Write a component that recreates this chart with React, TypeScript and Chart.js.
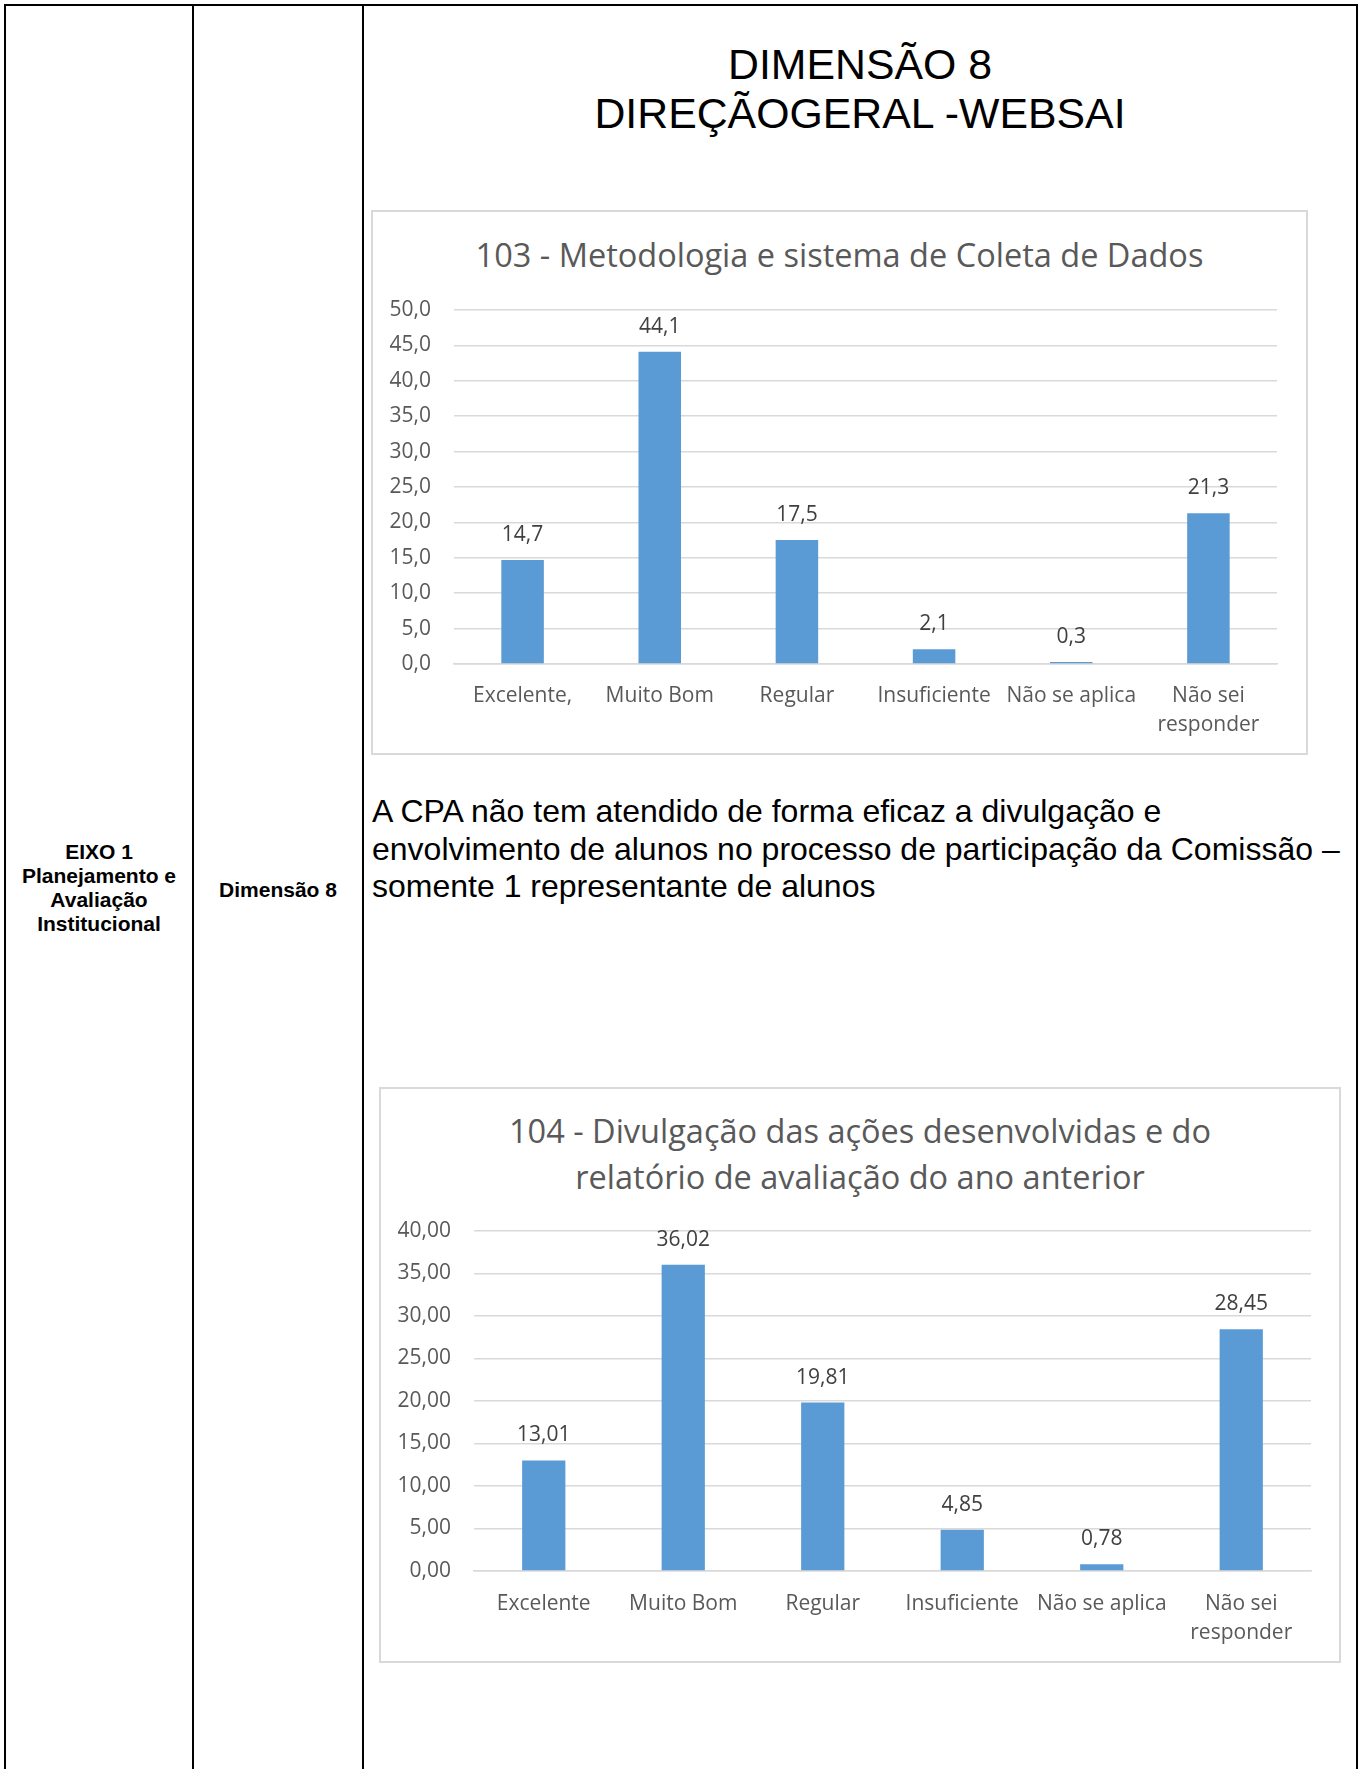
import React, { useEffect, useRef } from "react";
import { Chart, registerables } from "chart.js";

Chart.register(...registerables);

// ---------- Data ----------
const chart1Title = "103 - Metodologia e sistema de Coleta de Dados";
const chart1Categories: (string | string[])[] = [
  "Excelente,",
  "Muito Bom",
  "Regular",
  "Insuficiente",
  "Não se aplica",
  ["Não sei", "responder"],
];
const chart1Values = [14.7, 44.1, 17.5, 2.1, 0.3, 21.3];
const chart1AxisMax = 50;
const chart1AxisStep = 5;
const chart1Decimals = 1;

const chart2TitleLines = [
  "104 - Divulgação das ações desenvolvidas e do",
  "relatório de avaliação do ano anterior",
];
const chart2Categories: (string | string[])[] = [
  "Excelente",
  "Muito Bom",
  "Regular",
  "Insuficiente",
  "Não se aplica",
  ["Não sei", "responder"],
];
const chart2Values = [13.01, 36.02, 19.81, 4.85, 0.78, 28.45];
const chart2AxisMax = 40;
const chart2AxisStep = 5;
const chart2Decimals = 2;

const headerLines = ["DIMENSÃO 8", "DIREÇÃOGERAL -WEBSAI"];
const eixoLines = ["EIXO 1", "Planejamento e", "Avaliação", "Institucional"];
const dimensionLabel = "Dimensão 8";
const paragraphLines = [
  "A CPA não tem atendido de forma eficaz a divulgação e",
  "envolvimento de alunos no processo de participação da Comissão –",
  "somente 1 representante de alunos",
];

// ---------- Styles ----------
const BAR_COLOR = "#5B9BD5";
const GRID_COLOR = "#D9D9D9";
const AXIS_TEXT = "#595959";
const LABEL_TEXT = "#404040";
const CHART_FONT = "'Open Sans', 'Noto Sans', sans-serif";

const fmt = (v: number, d: number) => v.toFixed(d).replace(".", ",");

const valueLabelPlugin = {
  id: "valueLabels",
  afterDatasetsDraw(chart: any, _args: any, opts: any) {
    const ctx = chart.ctx;
    const meta = chart.getDatasetMeta(0);
    const data = chart.data.datasets[0].data as number[];
    ctx.save();
    ctx.font = `${opts.size}px ${CHART_FONT}`;
    ctx.fillStyle = LABEL_TEXT;
    ctx.textAlign = "center";
    ctx.textBaseline = "middle";
    meta.data.forEach((bar: any, i: number) => {
      ctx.fillText(fmt(data[i], opts.decimals), bar.x, bar.y - opts.offset);
    });
    ctx.restore();
  },
};

type BarProps = {
  labels: (string | string[])[];
  values: number[];
  max: number;
  step: number;
  decimals: number;
  left: number;
  top: number;
  width: number;
  height: number;
  plotLeft: number;
  plotRight: number;
  plotTop: number;
  plotBottom: number;
  labelPadding: number;
};

function BarChart(p: BarProps) {
  const ref = useRef<HTMLCanvasElement | null>(null);
  useEffect(() => {
    if (!ref.current) return;
    const chart = new Chart(ref.current, {
      type: "bar",
      data: {
        labels: p.labels as any,
        datasets: [
          {
            data: p.values,
            backgroundColor: BAR_COLOR,
            borderWidth: 0,
            barPercentage: 0.31,
            categoryPercentage: 1,
          },
        ],
      },
      options: {
        animation: false,
        responsive: false,
        devicePixelRatio: 1,
        layout: {
          padding: {
            left: 0,
            right: p.left + p.width - p.plotRight,
            top: p.plotTop - p.top,
            bottom: 0,
          },
        },
        plugins: {
          legend: { display: false },
          tooltip: { enabled: false },
          title: { display: false },
          valueLabels: { size: 21, decimals: p.decimals, offset: 25 },
        } as any,
        scales: {
          x: {
            grid: { display: false, drawTicks: false },
            border: { display: true, color: GRID_COLOR, width: 1.5 },
            ticks: {
              color: AXIS_TEXT,
              font: { family: CHART_FONT, size: 21, lineHeight: 1.4 },
              padding: p.labelPadding,
              maxRotation: 0,
              autoSkip: false,
            },
            afterFit: (s: any) => {
              s.height = p.top + p.height - p.plotBottom;
              s.paddingTop = 0;
              s.paddingBottom = 0;
            },
          },
          y: {
            min: 0,
            max: p.max,
            grid: { color: GRID_COLOR, lineWidth: 1.5, drawTicks: false },
            border: { display: false },
            ticks: {
              stepSize: p.step,
              color: AXIS_TEXT,
              font: { family: CHART_FONT, size: 21 },
              padding: 23,
              callback: (v: any) => fmt(Number(v), p.decimals),
            },
            afterFit: (s: any) => {
              s.width = p.plotLeft - p.left;
              s.paddingTop = 0;
              s.paddingBottom = 0;
            },
          },
        },
      },
      plugins: [valueLabelPlugin],
    });
    return () => chart.destroy();
  }, []);
  return (
    <canvas
      ref={ref}
      width={p.width}
      height={p.height}
      style={{
        position: "absolute",
        left: p.left,
        top: p.top,
        width: p.width,
        height: p.height,
      }}
    />
  );
}

const abs = (l: number, t: number, w: number, h: number, extra: any = {}) => ({
  position: "absolute" as const,
  left: l,
  top: t,
  width: w,
  height: h,
  ...extra,
});

export default function App() {
  return (
    <div
      style={{
        position: "absolute",
        left: 0,
        top: 0,
        width: 1361,
        height: 1769,
        overflow: "hidden",
        background: "#fff",
      }}
    >
      {/* table borders */}
      <div style={abs(4, 4, 1354, 2, { background: "#000" })} />
      <div style={abs(4, 4, 2, 1765, { background: "#000" })} />
      <div style={abs(192, 4, 2, 1765, { background: "#000" })} />
      <div style={abs(362, 4, 2, 1765, { background: "#000" })} />
      <div style={abs(1356, 4, 2, 1765, { background: "#000" })} />

      {/* column 1 */}
      <div
        style={abs(6, 840, 186, 100, {
          fontFamily: "'Liberation Sans', Arial, sans-serif",
          fontWeight: "bold",
          fontSize: 21,
          lineHeight: "24px",
          textAlign: "center",
          color: "#000",
        })}
      >
        {eixoLines.map((l, i) => (
          <div key={i}>{l}</div>
        ))}
      </div>

      {/* column 2 */}
      <div
        style={abs(194, 878, 168, 30, {
          fontFamily: "'Liberation Sans', Arial, sans-serif",
          fontWeight: "bold",
          fontSize: 21,
          lineHeight: "24px",
          textAlign: "center",
          color: "#000",
        })}
      >
        {dimensionLabel}
      </div>

      {/* header */}
      <div
        style={abs(364, 40, 992, 100, {
          fontFamily: "'Liberation Sans', Arial, sans-serif",
          fontSize: 42.8,
          lineHeight: "49px",
          textAlign: "center",
          color: "#000",
        })}
      >
        {headerLines.map((l, i) => (
          <div key={i}>{l}</div>
        ))}
      </div>

      {/* chart 1 box */}
      <div
        style={abs(371, 210, 937, 545, {
          boxSizing: "border-box",
          border: "2px solid #D9D9D9",
        })}
      />
      <div
        style={abs(371, 233, 937, 44, {
          fontFamily: CHART_FONT,
          fontSize: 32.5,
          lineHeight: "44px",
          textAlign: "center",
          color: AXIS_TEXT,
          whiteSpace: "nowrap",
        })}
      >
        {chart1Title}
      </div>
      <BarChart
        labels={chart1Categories}
        values={chart1Values}
        max={chart1AxisMax}
        step={chart1AxisStep}
        decimals={chart1Decimals}
        left={373}
        top={285}
        width={933}
        height={468}
        plotLeft={454}
        plotRight={1277}
        plotTop={310}
        plotBottom={664}
        labelPadding={17}
      />

      {/* paragraph */}
      <div
        style={abs(372, 793, 984, 120, {
          fontFamily: "'Liberation Sans', Arial, sans-serif",
          fontSize: 32,
          lineHeight: "37.5px",
          color: "#000",
          whiteSpace: "nowrap",
        })}
      >
        {paragraphLines.map((l, i) => (
          <div key={i}>{l}</div>
        ))}
      </div>

      {/* chart 2 box */}
      <div
        style={abs(379, 1087, 962, 576, {
          boxSizing: "border-box",
          border: "2px solid #D9D9D9",
        })}
      />
      <div
        style={abs(379, 1108, 962, 92, {
          fontFamily: CHART_FONT,
          fontSize: 32.5,
          lineHeight: "46px",
          textAlign: "center",
          color: AXIS_TEXT,
          whiteSpace: "nowrap",
        })}
      >
        {chart2TitleLines.map((l, i) => (
          <div key={i}>{l}</div>
        ))}
      </div>
      <BarChart
        labels={chart2Categories}
        values={chart2Values}
        max={chart2AxisMax}
        step={chart2AxisStep}
        decimals={chart2Decimals}
        left={381}
        top={1205}
        width={958}
        height={456}
        plotLeft={474}
        plotRight={1311}
        plotTop={1231}
        plotBottom={1571}
        labelPadding={18}
      />
    </div>
  );
}
